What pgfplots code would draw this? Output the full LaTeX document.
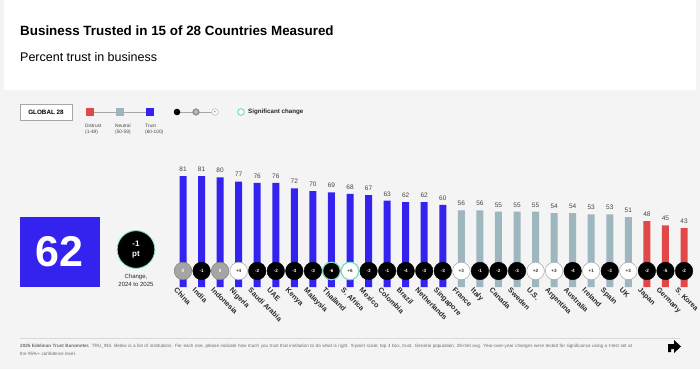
\documentclass[border=0pt]{standalone}
\usepackage{pgfplots}
\pgfplotsset{compat=1.18}
\usepackage{fontspec}
\setmainfont{Liberation Sans}
\definecolor{trustblue}{RGB}{52,34,238}
\definecolor{neutralc}{RGB}{158,182,189}
\definecolor{distrustc}{RGB}{226,72,72}
\definecolor{bggray}{RGB}{244,244,244}
\definecolor{sigc}{RGB}{120,222,196}
\definecolor{txtgray}{RGB}{70,70,70}
\definecolor{circgray}{RGB}{165,165,165}
\begin{document}
\begin{tikzpicture}
\path[use as bounding box] (0,0) rectangle (700pt,-369pt);
\fill[bggray] (0,0) rectangle (700pt,-369pt);
\fill[white] (4pt,0) rectangle (696pt,-90pt);
% title
\node[anchor=base west, inner sep=0pt, font=\bfseries\fontsize{13.4}{16}\selectfont] at (20pt,-35pt) {Business Trusted in 15 of 28 Countries Measured};
\node[anchor=base west, inner sep=0pt, font=\fontsize{12.5}{14}\selectfont] at (20pt,-61pt) {Percent trust in business};
% legend row
\draw[gray!70, fill=white, line width=0.7pt] (20pt,-104pt) rectangle (72pt,-120pt);
\node[font=\bfseries\fontsize{6.3}{7}\selectfont] at (46pt,-112pt) {GLOBAL 28};
\draw[gray!70, line width=0.5pt] (90pt,-112pt) -- (150pt,-112pt);
\fill[distrustc] (86pt,-108pt) rectangle (94pt,-116pt);
\fill[neutralc] (116pt,-108pt) rectangle (124pt,-116pt);
\fill[trustblue] (146pt,-108pt) rectangle (154pt,-116pt);
\node[anchor=north west, inner sep=0pt, align=left, text=txtgray, font=\fontsize{4.8}{6}\selectfont] at (85pt,-124pt) {Distrust\\(1-49)};
\node[anchor=north west, inner sep=0pt, align=left, text=txtgray, font=\fontsize{4.8}{6}\selectfont] at (115pt,-124pt) {Neutral\\(50-59)};
\node[anchor=north west, inner sep=0pt, align=left, text=txtgray, font=\fontsize{4.8}{6}\selectfont] at (145pt,-124pt) {Trust\\(60-100)};
\draw[gray!70, line width=0.5pt] (177pt,-112pt) -- (215pt,-112pt);
\fill[black] (177pt,-112pt) circle (3.3pt);
\draw[gray!80!black, fill=circgray, line width=0.4pt] (196pt,-112pt) circle (3.3pt);
\draw[gray!70, fill=white, line width=0.4pt] (215pt,-112pt) circle (3.3pt);
\node[text=white, font=\fontsize{3.5}{4}\selectfont] at (177pt,-112pt) {-};
\node[text=white, font=\fontsize{3.5}{4}\selectfont] at (196pt,-112pt) {0};
\node[text=black, font=\fontsize{3.5}{4}\selectfont] at (215pt,-112pt) {+};
\draw[sigc, line width=1pt, fill=white] (241pt,-112pt) circle (3.3pt);
\node[anchor=west, inner sep=0pt, font=\bfseries\fontsize{6.2}{7}\selectfont, text=black!85] at (248pt,-112pt) {Significant change};
% summary box
\fill[trustblue] (19.5pt,-216.7pt) rectangle (99.5pt,-287pt);
\node[text=white, font=\bfseries\fontsize{43}{45}\selectfont] at (59.5pt,-251.5pt) {62};
\draw[sigc, fill=black, line width=0.8pt] (136pt,-249.5pt) circle (18.8pt);
\node[text=white, align=center, font=\bfseries\fontsize{8}{9.5}\selectfont] at (136pt,-249.5pt) {-1\\pt};
\node[align=center, text=black!85, font=\fontsize{6}{8}\selectfont, anchor=north] at (136pt,-271pt) {Change,\\2024 to 2025};
% chart
\begin{axis}[
  at={(173.72pt,-287pt)}, anchor=south west,
  scale only axis, width=519.56pt, height=137pt,
  xmin=-0.5, xmax=27.5, ymin=0, ymax=100,
  axis line style={draw=none}, tick style={draw=none},
  ytick=\empty, xtick={0,...,27},
  xticklabels={China,India,Indonesia,Nigeria,Saudi Arabia,UAE,Kenya,Malaysia,Thailand,S. Africa,Mexico,Colombia,Brazil,Netherlands,Singapore,France,Italy,Canada,Sweden,U.S.,Argentina,Australia,Ireland,Spain,UK,Japan,Germany,S. Korea},
  xticklabel style={rotate=-45, anchor=north west, font=\bfseries\fontsize{7.2}{8}\selectfont, text=black!85, inner sep=0pt, xshift=-4pt, yshift=-4pt},
  bar width=7pt, bar shift=0pt,
  /pgf/number format/assume math mode=true,
  clip=false,
]
\addplot[ybar, fill=trustblue, draw=none, nodes near coords, every node near coord/.append style={font=\fontsize{6.5}{7}\selectfont, text=txtgray, yshift=1pt}] coordinates {
(0,81) (1,81) (2,80) (3,77) (4,76) (5,76) (6,72) (7,70) (8,69) (9,68) (10,67) (11,63) (12,62) (13,62) (14,60)};
\addplot[ybar, fill=neutralc, draw=none, nodes near coords, every node near coord/.append style={font=\fontsize{6.5}{7}\selectfont, text=txtgray, yshift=1pt}] coordinates {
(15,56) (16,56) (17,55) (18,55) (19,55) (20,54) (21,54) (22,53) (23,53) (24,51)};
\addplot[ybar, fill=distrustc, draw=none, nodes near coords, every node near coord/.append style={font=\fontsize{6.5}{7}\selectfont, text=txtgray, yshift=1pt}] coordinates {
(25,48) (26,45) (27,43)};
% change circles: black (decline)
\addplot[only marks, mark=*, mark size=8.8pt, mark options={fill=black, draw=black},
  nodes near coords, point meta=explicit symbolic,
  every node near coord/.append style={anchor=center, text=white, font=\bfseries\fontsize{4.6}{5}\selectfont}] coordinates {
(1,11.7)[-1] (4,11.7)[-2] (5,11.7)[-2] (6,11.7)[-3] (7,11.7)[-3] (8,11.7)[-6] (10,11.7)[-3] (11,11.7)[-1] (12,11.7)[-4] (13,11.7)[-3] (14,11.7)[-3] (16,11.7)[-1] (17,11.7)[-2] (18,11.7)[-3] (21,11.7)[-4] (23,11.7)[-3] (25,11.7)[-2] (26,11.7)[-5] (27,11.7)[-2]};
% gray (no change)
\addplot[only marks, mark=*, mark size=8.8pt, mark options={fill=circgray, draw=gray, line width=0.5pt},
  nodes near coords, point meta=explicit symbolic,
  every node near coord/.append style={anchor=center, text=white, font=\bfseries\fontsize{4.6}{5}\selectfont}] coordinates {
(0,11.7)[0] (2,11.7)[0]};
% white (increase)
\addplot[only marks, mark=*, mark size=8.8pt, mark options={fill=white, draw=gray!70, line width=0.5pt},
  nodes near coords, point meta=explicit symbolic,
  every node near coord/.append style={anchor=center, text=black!80, font=\bfseries\fontsize{4.6}{5}\selectfont}] coordinates {
(3,11.7)[+4] (9,11.7)[+6] (15,11.7)[+3] (19,11.7)[+2] (20,11.7)[+3] (22,11.7)[+1] (24,11.7)[+3]};
% significant change rings
\addplot[only marks, mark=o, mark size=8.8pt, mark options={draw=sigc, line width=1.1pt}] coordinates {(8,11.7) (9,11.7)};
\end{axis}
% footer
\draw[gray!30, line width=0.6pt] (20pt,-338pt) -- (680pt,-338pt);
\node[anchor=north west, inner sep=0pt, align=left, text width=615pt, text=gray!85!black, font=\fontsize{4.6}{7.6}\selectfont] at (20pt,-344pt) {\textbf{2025 Edelman Trust Barometer.} TRU\_INS. Below is a list of institutions. For each one, please indicate how much you trust that institution to do what is right. 9-point scale; top 4 box, trust. General population, 28-mkt avg. Year-over-year changes were tested for significance using a t-test set at the 95\%+ confidence level.};
\fill[black] (668pt,-344pt) -- (674pt,-344pt) -- (674pt,-340pt) -- (681pt,-346.5pt) -- (674pt,-353pt) -- (674pt,-349pt) -- (671pt,-349pt) -- (671pt,-352pt) -- (668pt,-352pt) -- cycle;
\end{tikzpicture}
\end{document}
